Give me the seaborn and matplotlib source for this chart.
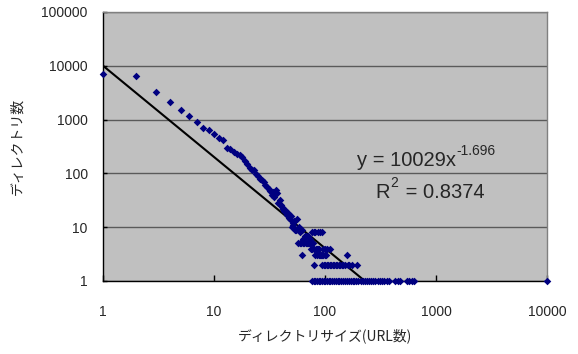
import matplotlib
matplotlib.use("Agg")
import matplotlib.pyplot as plt
import matplotlib.ticker as mticker
import numpy as np
import pandas as pd
import seaborn as sns

# ---- data ----
x_top = [1, 2, 3, 4, 5, 6, 7, 8, 9, 10, 11, 12, 13, 14, 15, 16, 17, 18, 19, 20,
         21, 22, 23, 24, 25, 26, 27, 28, 29, 30, 31, 32, 33, 34, 35, 36, 37, 38,
         39, 40, 41, 42, 43, 44, 45, 46, 47, 48, 49, 51, 52, 53, 56]
y_top = [7000, 6500, 3260, 2120, 1500, 1160, 900, 690, 640, 535, 450, 415, 294,
         282, 251, 234, 218, 203, 168, 152, 128, 118, 114, 99, 91, 79, 76, 68,
         60, 57, 51, 48, 40, 46, 37, 50, 43, 28, 32, 26, 24, 22, 20, 21, 17, 18,
         15, 14, 16, 12, 11, 13, 14]

x_y10 = [50, 58]
x_y9 = [54, 55, 62]
x_y8 = [59, 76, 79, 82, 86, 90, 93]
x_y7 = [66, 67, 71]
x_y6 = [64, 73]
x_y5 = [57, 60, 61, 63, 65, 68, 69, 70, 72, 74, 78]
x_y4 = [75, 77, 80, 83, 85, 87, 89, 95, 100, 105, 110]
x_y3 = [62, 81, 84, 88, 91, 92, 94, 96, 99, 103, 157]
x_y2 = [80, 94, 98, 101, 104, 107, 111, 114, 117, 121, 125, 129, 133, 137,
        141, 146, 150, 160, 166, 175, 193]
x_y1 = [76, 79, 82, 85, 88, 91, 94, 97, 100, 104, 108, 112, 116, 120, 125, 130,
        135, 140, 145, 151, 157, 163, 170, 177, 184, 192, 200, 209, 218, 228,
        238, 249, 260, 272, 285, 298, 312, 327, 343, 360, 375, 430, 450, 475,
        545, 575, 610, 640, 10000]

trend_coef = 10029
trend_exp = "-1.696"
r_squared = "0.8374"

x_ticks = [1, 10, 100, 1000, 10000]
y_ticks = [1, 10, 100, 1000, 10000, 100000]
x_label = "ディレクトリサイズ(URL数)"
y_label = "ディレクトリ数"

# ---- build table ----
xs = list(x_top)
ys = list(y_top)
for lvl, arr in [(10, x_y10), (9, x_y9), (8, x_y8), (7, x_y7), (6, x_y6),
                 (5, x_y5), (4, x_y4), (3, x_y3), (2, x_y2), (1, x_y1)]:
    xs += arr
    ys += [lvl] * len(arr)
df = pd.DataFrame({"size": xs, "count": ys})

tx = np.logspace(0, 4, 200)
trend = pd.DataFrame({"size": tx, "count": trend_coef * tx ** float(trend_exp)})

sns.set_theme(style="white")
plt.rcParams["font.family"] = ["Liberation Sans", "Noto Sans CJK JP", "DejaVu Sans"]
plt.rcParams["axes.unicode_minus"] = False

fig = plt.figure(figsize=(5.78, 3.54), dpi=100)
ax = fig.add_axes([103 / 578, 1 - 281 / 354, 444 / 578, 269 / 354])
ax.set_facecolor("#C0C0C0")

sns.lineplot(data=trend, x="size", y="count", ax=ax, color="black", lw=1.5,
             zorder=3)
sns.scatterplot(data=df, x="size", y="count", ax=ax, marker="D", s=15,
                color="#000080", edgecolor="#000080", linewidth=0, zorder=4,
                clip_on=False)

ax.set_xscale("log")
ax.set_yscale("log")
ax.set_xlim(1, 10000)
ax.set_ylim(1, 100000)
ax.set_xticks(x_ticks)
ax.set_yticks(y_ticks)
ax.xaxis.set_major_formatter(mticker.FuncFormatter(lambda v, p: f"{int(round(v))}"))
ax.yaxis.set_major_formatter(mticker.FuncFormatter(lambda v, p: f"{int(round(v))}"))
ax.xaxis.set_minor_locator(mticker.NullLocator())
ax.yaxis.set_minor_locator(mticker.NullLocator())

ax.grid(axis="y", color="#5a5a5a", lw=1.0)
ax.set_axisbelow(True)
for s in ["top", "right"]:
    ax.spines[s].set_color("#808080")
    ax.spines[s].set_linewidth(1.0)
for s in ["left", "bottom"]:
    ax.spines[s].set_color("black")
    ax.spines[s].set_linewidth(1.0)

ax.tick_params(axis="x", direction="in", length=4, width=1, color="black",
               pad=17, labelsize=10, bottom=True)
ax.tick_params(axis="y", direction="in", length=3, width=1, color="black",
               pad=11, labelsize=10, left=True)

ax.set_xlabel(x_label, fontsize=10, labelpad=7,
              family=["Noto Sans CJK JP", "DejaVu Sans"])
ax.set_ylabel(y_label, fontsize=10, labelpad=12,
              family=["Noto Sans CJK JP", "DejaVu Sans"])

# equation: main part + superscript drawn as plain text
t1 = ax.text(357, 166, f"y = {trend_coef}x", transform=None,
             fontsize=14.5, ha="left", va="baseline")
# convert pixel coords (from top) to display coords
t1.set_transform(matplotlib.transforms.Affine2D().scale(1, -1).translate(0, 354))
ax.annotate(trend_exp, xy=(1, 0), xycoords=t1, xytext=(0.5, 11),
            textcoords="offset points", fontsize=10, ha="left", va="baseline")

t2 = ax.text(375, 198, "R", fontsize=14.5, ha="left", va="baseline")
t2.set_transform(matplotlib.transforms.Affine2D().scale(1, -1).translate(0, 354))
t3 = ax.annotate("2", xy=(1, 0), xycoords=t2, xytext=(0.5, 11),
                 textcoords="offset points", fontsize=10, ha="left", va="baseline")
ax.annotate(f" = {r_squared}", xy=(1, 0), xycoords=t2, xytext=(7.5, 0),
            textcoords="offset points", fontsize=14.5, ha="left", va="bottom")

fig.savefig("out.png", dpi=100)
